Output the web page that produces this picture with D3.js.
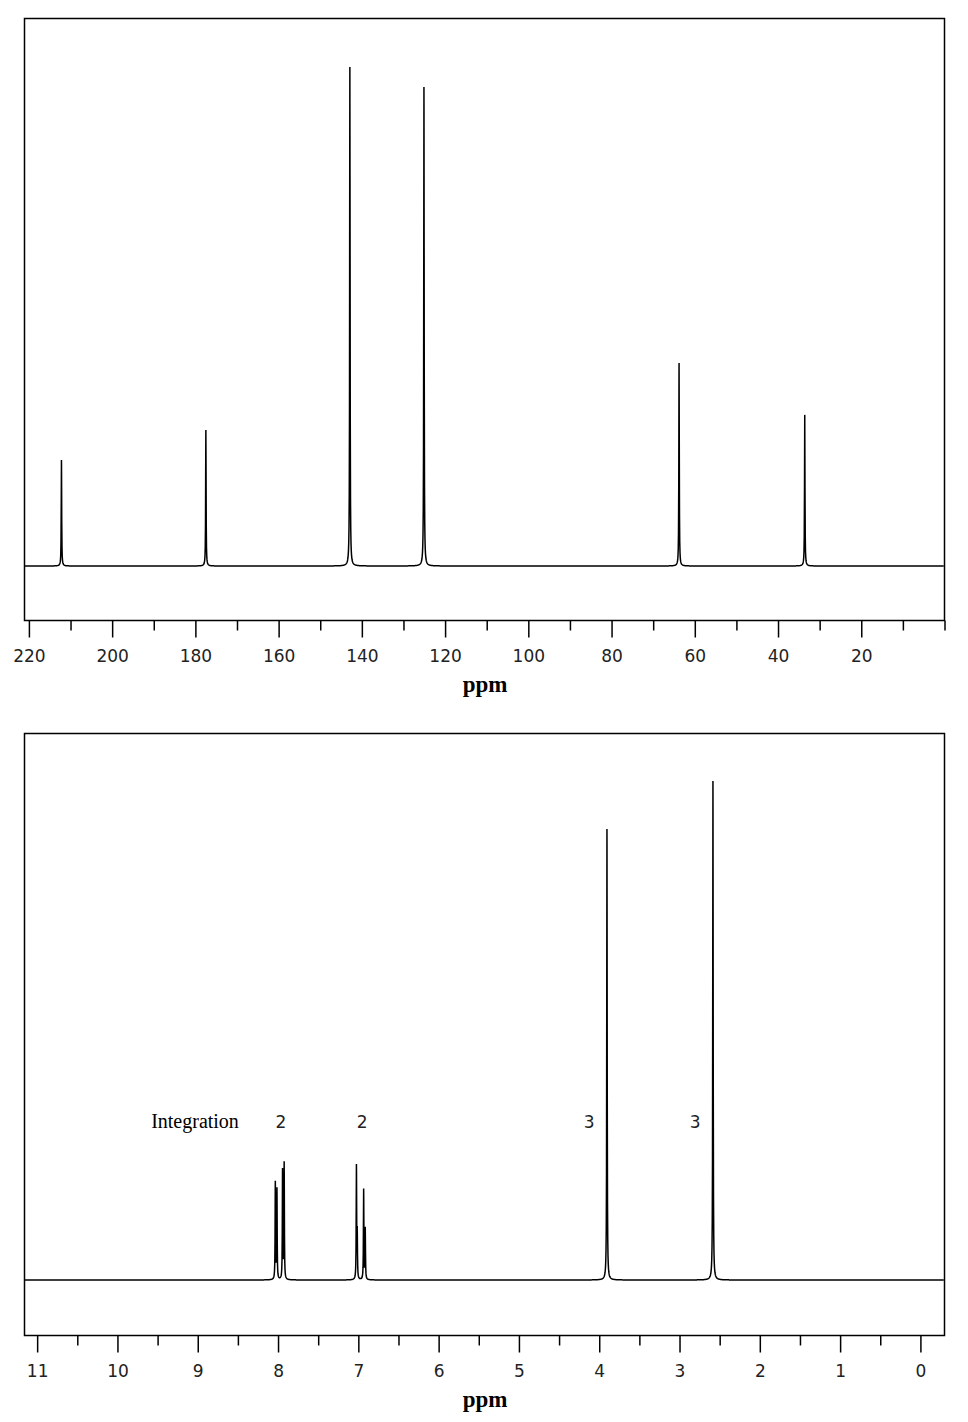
<!DOCTYPE html><html><head><script src="https://d3js.org/d3.v7.min.js"></script>
<style>body{margin:0;background:#fff}</style></head><body><svg id="c" width="968" height="1422"></svg>
<script>
// 13C spectrum
const c13Shifts = [212.3, 177.6, 143.0, 125.2, 63.9, 33.7];
const c13Heights = [21.2, 27.2, 99.8, 95.8, 40.6, 30.2];
const c13Ticks = [220,200,180,160,140,120,100,80,60,40,20];
// 1H spectrum
const h1Shifts = [8.04, 8.02, 7.95, 7.93, 7.03, 7.02, 6.94, 6.92, 3.91, 2.59];
const h1Heights = [19.4, 18.0, 21.8, 23.2, 22.4, 8.8, 18.0, 10.2, 90.2, 99.8];
const h1Ticks = [11,10,9,8,7,6,5,4,3,2,1,0];
const integLabels = ["2","2","3","3"];
const integPos = [7.97, 6.96, 4.13, 2.81];

const svg = d3.select("#c");
function panel(o){
  const g = svg.append("g");
  const x = d3.scaleLinear().domain(o.dom).range([o.x0, o.x1]);
  const y = d3.scaleLinear().domain([0,100]).range([o.base, o.base-500]);
  g.append("rect").attr("x",24.5).attr("y",o.top+0.5).attr("width",920).attr("height",o.bot-o.top)
    .attr("fill","none").attr("stroke","#000").attr("stroke-width",1.5);
  const w = Math.abs(x.invert(0.25)-x.invert(0));
  const pxs = d3.range(25, 944, 0.25).concat(o.shifts.map(s=>x(s))).sort((a,b)=>a-b);
  const pts = pxs.map(px=>{
    const p = x.invert(px);
    let v=0;
    o.shifts.forEach((s,i)=>{const d=(p-s)/w; v+=o.heights[i]/(1+d*d);});
    return [px, v];
  });
  g.append("path").attr("d", d3.line().x(d=>d[0]).y(d=>y(d[1]))(pts))
    .attr("fill","none").attr("stroke","#000").attr("stroke-width",1.5);
  const half = o.step/2;
  const start = Math.floor(o.dom[0]/half)*half;
  const minor = d3.range(start, o.dom[1]-1e-9, -half).filter(t=>x(t)>=24 && x(t)<=945);
  const ax = g.append("g").attr("transform",`translate(0,${o.bot+0.5})`);
  minor.forEach(t=>{
    const major = o.ticks.some(m=>Math.abs(m-t)<1e-9);
    ax.append("line").attr("x1",x(t)).attr("x2",x(t)).attr("y1",0).attr("y2",major?17:10).attr("stroke","#000").attr("stroke-width",1.5);
  });
  o.ticks.forEach(t=>ax.append("text").attr("x",x(t)).attr("y",41).attr("text-anchor","middle")
    .attr("font-family","DejaVu Sans").attr("font-size",17).attr("fill","#222").text(t));
  g.append("text").attr("x",485).attr("y",o.bot+72).attr("text-anchor","middle")
    .attr("font-family","Liberation Serif").attr("font-weight","bold").attr("font-size",23).text("ppm");
  return {x,y,g};
}
panel({dom:[221.3,0], x0:24, x1:945, top:18, bot:620, base:566, shifts:c13Shifts, heights:c13Heights, ticks:c13Ticks, step:20});
const p2 = panel({dom:[11.17,-0.3], x0:24, x1:945, top:733, bot:1335, base:1280, shifts:h1Shifts, heights:h1Heights, ticks:h1Ticks, step:1});
p2.g.append("text").attr("x",195).attr("y",1128).attr("text-anchor","middle").attr("font-family","Liberation Serif").attr("font-size",20).text("Integration");
integLabels.forEach((l,i)=>p2.g.append("text").attr("x",p2.x(integPos[i])).attr("y",1128).attr("text-anchor","middle")
  .attr("font-family","DejaVu Sans").attr("font-size",17).attr("fill","#222").text(l));
</script></body></html>
